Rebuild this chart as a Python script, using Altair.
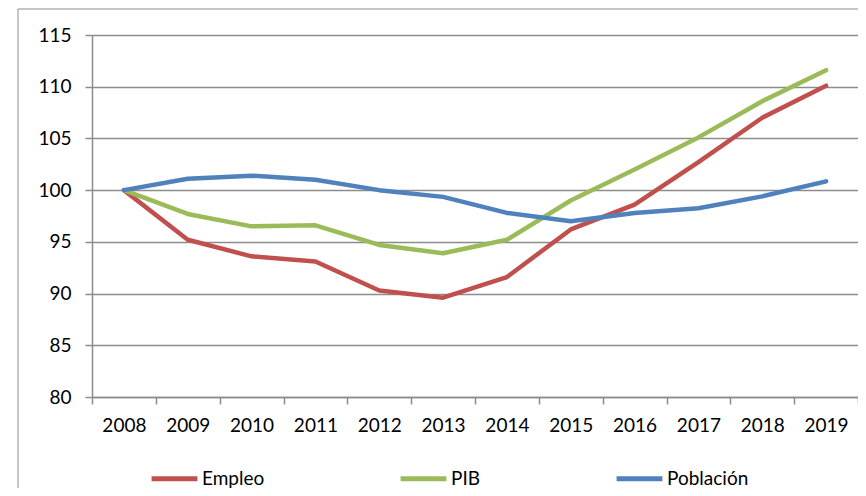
import altair as alt
import pandas as pd

years = [2008, 2009, 2010, 2011, 2012, 2013, 2014, 2015, 2016, 2017, 2018, 2019]
empleo = [100, 95.2, 93.6, 93.1, 90.3, 89.6, 91.6, 96.2, 98.6, 102.7, 107.0, 110.1]
pib = [100, 97.7, 96.5, 96.6, 94.7, 93.9, 95.2, 99.0, 102.0, 105.1, 108.6, 111.6]
poblacion = [100, 101.1, 101.4, 101.0, 100.0, 99.35, 97.8, 97.0, 97.8, 98.25, 99.4, 100.85]
series_names = ["Empleo", "PIB", "Población"]
series_colors = ["#C0504D", "#9BBB59", "#4F81BD"]
y_ticks = [80, 85, 90, 95, 100, 105, 110, 115]

rows = []
for name, vals in zip(series_names, [empleo, pib, poblacion]):
    for yr, v in zip(years, vals):
        rows.append({"year": yr, "value": v, "serie": name})
df = pd.DataFrame(rows)

boundaries = [y - 0.5 for y in years] + [years[-1] + 0.5]

W, H = 766, 362
GRAY = "#8C8C8C"
FONT = "Lato"

border = alt.Chart(pd.DataFrame({"a": [0]})).mark_rect(
    fill="white", fillOpacity=0, stroke=GRAY, strokeWidth=1
).encode(
    x=alt.value(-74), x2=alt.value(W + 40),
    y=alt.value(-26), y2=alt.value(H + 200)
)

lines = alt.Chart(df).mark_line(strokeWidth=4.5, strokeCap="round", strokeJoin="round").encode(
    x=alt.X("year:Q",
            scale=alt.Scale(domain=[years[0] - 0.5, years[-1] + 0.5], nice=False, zero=False),
            axis=alt.Axis(values=boundaries, title=None, grid=False,
                          labelExpr="datum.value < %d ? format(datum.value + 0.5, 'd') : ''" % years[-1],
                          labelOffset=W / len(years) / 2, labelFlush=False, labelOverlap=False,
                          tickSize=7, tickColor=GRAY, tickWidth=1.5,
                          domainColor=GRAY, domainWidth=1.5,
                          labelFont=FONT, labelFontSize=19, labelColor="black",
                          labelPadding=12)),
    y=alt.Y("value:Q",
            scale=alt.Scale(domain=[80, 115], nice=False, zero=False),
            axis=alt.Axis(values=y_ticks, title=None, grid=True, gridColor=GRAY, gridWidth=1.5,
                          tickSize=7, tickColor=GRAY, tickWidth=1.5,
                          domainColor=GRAY, domainWidth=1.5,
                          labelFont=FONT, labelFontSize=19, labelColor="black",
                          labelPadding=14)),
    color=alt.Color("serie:N",
                    scale=alt.Scale(domain=series_names, range=series_colors),
                    sort=series_names,
                    legend=alt.Legend(title=None, orient="none", legendX=57, legendY=418,
                                      direction="horizontal", symbolType="stroke",
                                      symbolSize=2100, symbolStrokeWidth=5,
                                      labelFont=FONT, labelFontSize=19, labelColor="black",
                                      labelOffset=2, columnPadding=125)),
    order=alt.Order("year:Q")
)

chart = alt.layer(border, lines).properties(
    width=W, height=H,
    autosize=alt.AutoSizeParams(type="none"),
    padding={"left": 84, "top": 27, "right": 0, "bottom": 91},
    background="white"
).configure_view(stroke=None)

chart.save("out.html", embed_options={"renderer": "svg", "actions": False})
